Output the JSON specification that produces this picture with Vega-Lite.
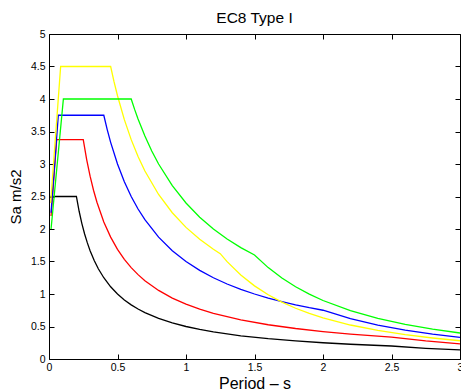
{
  "$schema": "https://vega.github.io/schema/vega-lite/v6.json",
  "width": 411,
  "height": 325,
  "autosize": {"type": "none"},
  "padding": {"left": 49, "top": 34, "right": 1, "bottom": 33},
  "background": "white",
  "title": {"text": "EC8 Type I", "font": "Liberation Sans", "fontSize": 15.5, "fontWeight": "normal", "color": "black", "offset": 3, "anchor": "middle"},
  "config": {
    "view": {"stroke": null},
    "axis": {"labelFont": "Liberation Sans", "titleFont": "Liberation Sans", "labelColor": "black", "titleColor": "black", "domainColor": "black", "tickColor": "black", "grid": false, "labelFontSize": 10.5, "titleFontWeight": "normal", "domainWidth": 1, "tickWidth": 1}
  },
  "data": {"values": [
    {"s": "1k", "T": 0.01, "Sa": 2.5}, {"s": "1k", "T": 0.2, "Sa": 2.5}, {"s": "1k", "T": 0.22, "Sa": 2.273}, {"s": "1k", "T": 0.24, "Sa": 2.083}, {"s": "1k", "T": 0.26, "Sa": 1.923}, {"s": "1k", "T": 0.28, "Sa": 1.786}, {"s": "1k", "T": 0.3, "Sa": 1.667}, {"s": "1k", "T": 0.33, "Sa": 1.515}, {"s": "1k", "T": 0.36, "Sa": 1.389}, {"s": "1k", "T": 0.4, "Sa": 1.25}, {"s": "1k", "T": 0.45, "Sa": 1.111}, {"s": "1k", "T": 0.5, "Sa": 1.0}, {"s": "1k", "T": 0.55, "Sa": 0.909}, {"s": "1k", "T": 0.6, "Sa": 0.833}, {"s": "1k", "T": 0.65, "Sa": 0.769}, {"s": "1k", "T": 0.7, "Sa": 0.714}, {"s": "1k", "T": 0.8, "Sa": 0.625}, {"s": "1k", "T": 0.9, "Sa": 0.556}, {"s": "1k", "T": 1.0, "Sa": 0.5}, {"s": "1k", "T": 1.1, "Sa": 0.455}, {"s": "1k", "T": 1.2, "Sa": 0.417}, {"s": "1k", "T": 1.4, "Sa": 0.357}, {"s": "1k", "T": 1.6, "Sa": 0.3125}, {"s": "1k", "T": 1.8, "Sa": 0.278}, {"s": "1k", "T": 2.0, "Sa": 0.25}, {"s": "1k", "T": 2.2, "Sa": 0.227}, {"s": "1k", "T": 2.5, "Sa": 0.2}, {"s": "1k", "T": 2.75, "Sa": 0.165}, {"s": "1k", "T": 3.0, "Sa": 0.139},
    {"s": "2r", "T": 0.015, "Sa": 2.2}, {"s": "2r", "T": 0.056, "Sa": 3.375}, {"s": "2r", "T": 0.25, "Sa": 3.375}, {"s": "2r", "T": 0.275, "Sa": 3.068}, {"s": "2r", "T": 0.3, "Sa": 2.8125}, {"s": "2r", "T": 0.325, "Sa": 2.596}, {"s": "2r", "T": 0.35, "Sa": 2.411}, {"s": "2r", "T": 0.4, "Sa": 2.109}, {"s": "2r", "T": 0.45, "Sa": 1.875}, {"s": "2r", "T": 0.5, "Sa": 1.6875}, {"s": "2r", "T": 0.55, "Sa": 1.534}, {"s": "2r", "T": 0.6, "Sa": 1.406}, {"s": "2r", "T": 0.65, "Sa": 1.298}, {"s": "2r", "T": 0.7, "Sa": 1.205}, {"s": "2r", "T": 0.8, "Sa": 1.055}, {"s": "2r", "T": 0.9, "Sa": 0.9375}, {"s": "2r", "T": 1.0, "Sa": 0.844}, {"s": "2r", "T": 1.1, "Sa": 0.767}, {"s": "2r", "T": 1.2, "Sa": 0.703}, {"s": "2r", "T": 1.4, "Sa": 0.603}, {"s": "2r", "T": 1.6, "Sa": 0.527}, {"s": "2r", "T": 1.8, "Sa": 0.469}, {"s": "2r", "T": 2.0, "Sa": 0.422}, {"s": "2r", "T": 2.2, "Sa": 0.384}, {"s": "2r", "T": 2.5, "Sa": 0.3375}, {"s": "2r", "T": 2.75, "Sa": 0.279}, {"s": "2r", "T": 3.0, "Sa": 0.234},
    {"s": "3b", "T": 0.015, "Sa": 2.25}, {"s": "3b", "T": 0.068, "Sa": 3.75}, {"s": "3b", "T": 0.4, "Sa": 3.75}, {"s": "3b", "T": 0.425, "Sa": 3.529}, {"s": "3b", "T": 0.45, "Sa": 3.333}, {"s": "3b", "T": 0.5, "Sa": 3.0}, {"s": "3b", "T": 0.55, "Sa": 2.727}, {"s": "3b", "T": 0.6, "Sa": 2.5}, {"s": "3b", "T": 0.65, "Sa": 2.308}, {"s": "3b", "T": 0.7, "Sa": 2.143}, {"s": "3b", "T": 0.8, "Sa": 1.875}, {"s": "3b", "T": 0.9, "Sa": 1.667}, {"s": "3b", "T": 1.0, "Sa": 1.5}, {"s": "3b", "T": 1.1, "Sa": 1.364}, {"s": "3b", "T": 1.2, "Sa": 1.25}, {"s": "3b", "T": 1.3, "Sa": 1.154}, {"s": "3b", "T": 1.4, "Sa": 1.071}, {"s": "3b", "T": 1.5, "Sa": 1.0}, {"s": "3b", "T": 1.6, "Sa": 0.9375}, {"s": "3b", "T": 1.7, "Sa": 0.882}, {"s": "3b", "T": 1.8, "Sa": 0.833}, {"s": "3b", "T": 1.9, "Sa": 0.789}, {"s": "3b", "T": 2.0, "Sa": 0.75}, {"s": "3b", "T": 2.2, "Sa": 0.62}, {"s": "3b", "T": 2.4, "Sa": 0.521}, {"s": "3b", "T": 2.6, "Sa": 0.444}, {"s": "3b", "T": 2.8, "Sa": 0.383}, {"s": "3b", "T": 3.0, "Sa": 0.333},
    {"s": "4y", "T": 0.012, "Sa": 2.4}, {"s": "4y", "T": 0.085, "Sa": 4.5}, {"s": "4y", "T": 0.45, "Sa": 4.5}, {"s": "4y", "T": 0.475, "Sa": 4.263}, {"s": "4y", "T": 0.5, "Sa": 4.05}, {"s": "4y", "T": 0.55, "Sa": 3.682}, {"s": "4y", "T": 0.6, "Sa": 3.375}, {"s": "4y", "T": 0.65, "Sa": 3.115}, {"s": "4y", "T": 0.7, "Sa": 2.893}, {"s": "4y", "T": 0.8, "Sa": 2.531}, {"s": "4y", "T": 0.9, "Sa": 2.25}, {"s": "4y", "T": 1.0, "Sa": 2.025}, {"s": "4y", "T": 1.1, "Sa": 1.841}, {"s": "4y", "T": 1.2, "Sa": 1.6875}, {"s": "4y", "T": 1.25, "Sa": 1.62}, {"s": "4y", "T": 1.3, "Sa": 1.498}, {"s": "4y", "T": 1.4, "Sa": 1.291}, {"s": "4y", "T": 1.5, "Sa": 1.125}, {"s": "4y", "T": 1.6, "Sa": 0.989}, {"s": "4y", "T": 1.7, "Sa": 0.876}, {"s": "4y", "T": 1.8, "Sa": 0.781}, {"s": "4y", "T": 1.9, "Sa": 0.701}, {"s": "4y", "T": 2.0, "Sa": 0.633}, {"s": "4y", "T": 2.2, "Sa": 0.523}, {"s": "4y", "T": 2.4, "Sa": 0.439}, {"s": "4y", "T": 2.6, "Sa": 0.374}, {"s": "4y", "T": 2.8, "Sa": 0.323}, {"s": "4y", "T": 3.0, "Sa": 0.281},
    {"s": "5g", "T": 0.015, "Sa": 2.0}, {"s": "5g", "T": 0.105, "Sa": 4.0}, {"s": "5g", "T": 0.6, "Sa": 4.0}, {"s": "5g", "T": 0.625, "Sa": 3.84}, {"s": "5g", "T": 0.65, "Sa": 3.692}, {"s": "5g", "T": 0.7, "Sa": 3.429}, {"s": "5g", "T": 0.75, "Sa": 3.2}, {"s": "5g", "T": 0.8, "Sa": 3.0}, {"s": "5g", "T": 0.9, "Sa": 2.667}, {"s": "5g", "T": 1.0, "Sa": 2.4}, {"s": "5g", "T": 1.1, "Sa": 2.182}, {"s": "5g", "T": 1.2, "Sa": 2.0}, {"s": "5g", "T": 1.3, "Sa": 1.846}, {"s": "5g", "T": 1.4, "Sa": 1.714}, {"s": "5g", "T": 1.5, "Sa": 1.6}, {"s": "5g", "T": 1.6, "Sa": 1.406}, {"s": "5g", "T": 1.7, "Sa": 1.246}, {"s": "5g", "T": 1.8, "Sa": 1.111}, {"s": "5g", "T": 1.9, "Sa": 0.997}, {"s": "5g", "T": 2.0, "Sa": 0.9}, {"s": "5g", "T": 2.2, "Sa": 0.744}, {"s": "5g", "T": 2.4, "Sa": 0.625}, {"s": "5g", "T": 2.6, "Sa": 0.533}, {"s": "5g", "T": 2.8, "Sa": 0.459}, {"s": "5g", "T": 3.0, "Sa": 0.4}
  ]},
  "layer": [
    {
      "mark": {"type": "line", "strokeWidth": 1.3, "clip": true},
      "encoding": {
        "x": {"field": "T", "type": "quantitative", "scale": {"domain": [0, 3], "nice": false, "zero": false},
          "axis": {"orient": "bottom", "values": [0, 0.5, 1, 1.5, 2, 2.5, 3], "format": "~g", "tickSize": -5, "labelPadding": 8, "labelFlush": false, "labelAngle": 0, "labelOverlap": false, "title": "Period – s", "titleFontSize": 16, "titlePadding": 3}},
        "y": {"field": "Sa", "type": "quantitative", "scale": {"domain": [0, 5], "nice": false},
          "axis": {"orient": "left", "values": [0, 0.5, 1, 1.5, 2, 2.5, 3, 3.5, 4, 4.5, 5], "format": "~g", "tickSize": -5, "labelPadding": 9, "labelFlush": false, "labelOverlap": false, "title": "Sa m/s2", "titleFontSize": 15, "titlePadding": 7}},
        "color": {"field": "s", "type": "nominal", "scale": {"domain": ["1k", "2r", "3b", "4y", "5g"], "range": ["#000000", "#ff0000", "#0000ff", "#ffff00", "#00ff00"]}, "legend": null}
      }
    },
    {
      "mark": {"type": "line", "opacity": 0},
      "encoding": {
        "x": {"field": "T", "type": "quantitative", "axis": {"orient": "top", "values": [0, 0.5, 1, 1.5, 2, 2.5, 3], "labels": false, "tickSize": -5, "title": null}},
        "y": {"field": "Sa", "type": "quantitative", "axis": {"orient": "right", "values": [0, 0.5, 1, 1.5, 2, 2.5, 3, 3.5, 4, 4.5, 5], "labels": false, "tickSize": -5, "title": null}}
      }
    }
  ],
  "resolve": {"axis": {"x": "independent", "y": "independent"}}
}
